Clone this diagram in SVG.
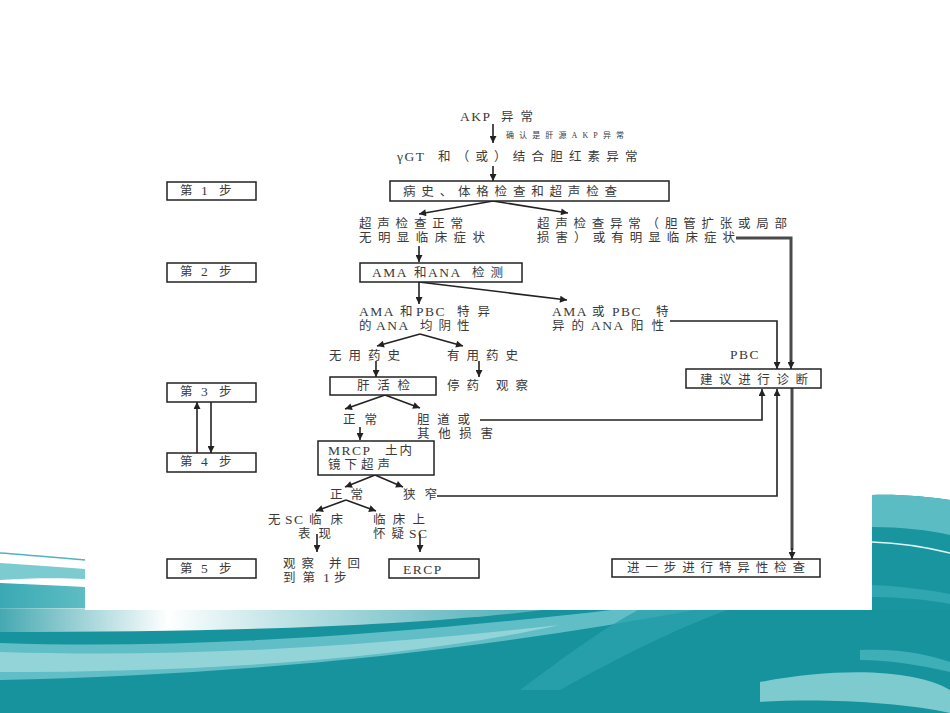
<svg xmlns="http://www.w3.org/2000/svg" width="950" height="713" viewBox="0 0 950 713">
<defs>
<style>
.t{font-family:"Liberation Serif","Noto Sans CJK SC",serif;font-size:12.5px;fill:#3a3a3a}
.s{font-size:8px}
.la{font-size:13.5px;letter-spacing:1.5px}
.box{fill:#fff;stroke:#222;stroke-width:1.5}
.ln{fill:none;stroke:#222;stroke-width:1.6}
.thick{fill:none;stroke:#4a4a4a;stroke-width:3}
</style>
<marker id="ah" viewBox="0 0 10 10" refX="10" refY="5" markerWidth="8" markerHeight="7" markerUnits="userSpaceOnUse" orient="auto">
<path d="M0,0 L10,5 L0,10 z" fill="#222"/>
</marker>
<linearGradient id="wf" x1="0" y1="0" x2="1" y2="0">
<stop offset="0" stop-color="#fff" stop-opacity="0.2"/>
<stop offset="0.3" stop-color="#fff" stop-opacity="1"/>
<stop offset="1" stop-color="#bfe6e9" stop-opacity="0.3"/>
</linearGradient>
<linearGradient id="lb" x1="0" y1="0" x2="1" y2="0">
<stop offset="0" stop-color="#3aa9b3"/>
<stop offset="1" stop-color="#5ebdc4"/>
</linearGradient>
</defs>
<g id="background">
<rect x="0" y="0" width="950" height="713" fill="#fff"/>
<path d="M872,495 C900,494 930,497 950,500 L950,713 L872,713 Z" fill="#18959f"/>
<path d="M872,495 C900,494 930,497 950,500 L950,535 C930,530 900,527 872,527 Z" fill="#5cbcc4"/>
<path d="M872,542 C900,543 930,548 950,553" fill="none" stroke="#e0f4f5" stroke-width="1.5"/>
<path d="M872,585 C900,586 930,590 950,594 L950,604 C930,600 900,597 872,597 Z" fill="#2fa6b0"/>
<path d="M0,553 C30,555 60,558 85,560" fill="none" stroke="#4fb4bd" stroke-width="1.5"/>
<path d="M0,563 C30,565 60,567 85,569 L85,579 C60,578 30,578 0,580 Z" fill="#7ccbd1"/>
<path d="M0,583 C30,584 60,586 85,587 L85,610 L0,610 Z" fill="url(#lb)"/>
<rect x="0" y="609" width="950" height="104" fill="#17939e"/>
<path d="M0,608 L560,608 C430,625 250,632 0,632 Z" fill="url(#wf)"/>
<path d="M0,643 C200,650 420,632 620,609 L700,609 C480,650 250,675 0,680 Z" fill="#6ec6cc" opacity="0.85"/>
<path d="M0,652 C200,658 380,645 560,625 C400,660 200,672 0,672 Z" fill="#a8dde0" opacity="0.7"/>
<path d="M640,609 L730,609 C700,620 650,640 560,690 L520,690 C560,660 600,630 640,609 Z" fill="#2aa3ad" opacity="0.8"/>
<path d="M760,682 C850,665 920,672 950,690 L950,713 C900,702 820,698 760,702 Z" fill="#8fd3d7" opacity="0.85"/>
<path d="M860,650 C900,648 930,655 950,662 L950,672 C920,665 890,660 860,660 Z" fill="#3eaeb7"/>
<rect x="85" y="0" width="787" height="610" fill="#fff"/>
</g>
<g id="connectors">
<line class="ln" x1="493" y1="124" x2="493" y2="143" marker-end="url(#ah)"/>
<line class="ln" x1="493" y1="166" x2="493" y2="181" marker-end="url(#ah)"/>
<line class="ln" x1="493" y1="201" x2="419" y2="214" marker-end="url(#ah)"/>
<line class="ln" x1="493" y1="201" x2="568" y2="213" marker-end="url(#ah)"/>
<line class="ln" x1="419" y1="246" x2="419" y2="262" marker-end="url(#ah)"/>
<line class="ln" x1="419" y1="282" x2="419" y2="304" marker-end="url(#ah)"/>
<line class="ln" x1="419" y1="282" x2="567" y2="300" marker-end="url(#ah)"/>
<line class="ln" x1="420" y1="334" x2="377" y2="346" marker-end="url(#ah)"/>
<line class="ln" x1="420" y1="334" x2="463" y2="346" marker-end="url(#ah)"/>
<line class="ln" x1="376" y1="361" x2="376" y2="377" marker-end="url(#ah)"/>
<line class="ln" x1="479" y1="361" x2="479" y2="377" marker-end="url(#ah)"/>
<line class="ln" x1="385" y1="395" x2="345" y2="409" marker-end="url(#ah)"/>
<line class="ln" x1="385" y1="395" x2="420" y2="408" marker-end="url(#ah)"/>
<line class="ln" x1="360" y1="427" x2="360" y2="440" marker-end="url(#ah)"/>
<line class="ln" x1="375" y1="475" x2="345" y2="487" marker-end="url(#ah)"/>
<line class="ln" x1="375" y1="475" x2="403" y2="487" marker-end="url(#ah)"/>
<line class="ln" x1="346" y1="500" x2="316" y2="511" marker-end="url(#ah)"/>
<line class="ln" x1="346" y1="500" x2="376" y2="511" marker-end="url(#ah)"/>
<line class="ln" x1="317" y1="534" x2="317" y2="552" marker-end="url(#ah)"/>
<line class="ln" x1="420" y1="534" x2="420" y2="552" marker-end="url(#ah)"/>
<line class="ln" x1="197" y1="453" x2="197" y2="402" marker-end="url(#ah)"/>
<line class="ln" x1="211" y1="402" x2="211" y2="453" marker-end="url(#ah)"/>
<polyline class="thick" points="736,238 791,238 791,362"/>
<line class="ln" x1="791" y1="360" x2="791" y2="369" marker-end="url(#ah)"/>
<polyline class="ln" points="670,321 777,321 777,369" marker-end="url(#ah)"/>
<polyline class="ln" points="480,420 762,420 762,389" marker-end="url(#ah)"/>
<polyline class="ln" points="437,496 777,496 777,389" marker-end="url(#ah)"/>
<line class="thick" x1="792" y1="388" x2="792" y2="550"/>
<line class="ln" x1="792" y1="548" x2="792" y2="559" marker-end="url(#ah)"/>
</g>
<g id="n-akp"><text class="t" y="121"><tspan class="la" x="460">AKP</tspan><tspan x="501" style="letter-spacing:7px">异常</tspan></text></g>
<g id="l-confirm"><text class="t s" x="506" y="138" textLength="118" lengthAdjust="spacing">确认是肝源AKP异常</text></g>
<g id="n-ggt"><text class="t" y="161"><tspan class="la" x="397">γGT</tspan><tspan x="438" style="letter-spacing:6.2px">和（或）结合胆红素异常</tspan></text></g>
<g id="n-history"><rect class="box" x="390" y="181" width="279" height="20"/><text class="t" x="403" y="196" textLength="214" lengthAdjust="spacing">病史、体格检查和超声检查</text></g>
<g id="s1"><rect class="box" x="167" y="182" width="89" height="18"/><text class="t" y="195"><tspan x="180">第</tspan><tspan class="la" x="201">1</tspan><tspan x="219">步</tspan></text></g>
<g id="s2"><rect class="box" x="167" y="263" width="89" height="19"/><text class="t" y="276"><tspan x="180">第</tspan><tspan class="la" x="201">2</tspan><tspan x="219">步</tspan></text></g>
<g id="s3"><rect class="box" x="167" y="383" width="89" height="19"/><text class="t" y="396"><tspan x="180">第</tspan><tspan class="la" x="201">3</tspan><tspan x="219">步</tspan></text></g>
<g id="s4"><rect class="box" x="167" y="453" width="89" height="19"/><text class="t" y="466"><tspan x="180">第</tspan><tspan class="la" x="201">4</tspan><tspan x="219">步</tspan></text></g>
<g id="s5"><rect class="box" x="167" y="559" width="89" height="19"/><text class="t" y="573"><tspan x="180">第</tspan><tspan class="la" x="201">5</tspan><tspan x="219">步</tspan></text></g>
<g id="n-us-normal"><text class="t" x="359" y="228" textLength="104" lengthAdjust="spacing">超声检查正常</text><text class="t" x="359" y="242" textLength="126" lengthAdjust="spacing">无明显临床症状</text></g>
<g id="n-us-abn"><text class="t" x="537" y="228" textLength="250" lengthAdjust="spacing">超声检查异常（胆管扩张或局部</text><text class="t" x="537" y="242" textLength="198" lengthAdjust="spacing">损害）或有明显临床症状</text></g>
<g id="n-ama"><rect class="box" x="360" y="263" width="162" height="19"/><text class="t" y="277"><tspan class="la" x="372">AMA</tspan><tspan x="414">和</tspan><tspan class="la" x="428">ANA</tspan><tspan x="472" style="letter-spacing:6px">检测</tspan></text></g>
<g id="n-neg"><text class="t" y="316"><tspan class="la" x="359">AMA</tspan><tspan x="400">和</tspan><tspan class="la" x="416">PBC</tspan><tspan x="457" style="letter-spacing:8px">特异</tspan></text><text class="t" y="330"><tspan x="359">的</tspan><tspan class="la" x="376">ANA</tspan><tspan x="420" style="letter-spacing:6px">均阴性</tspan></text></g>
<g id="n-pos"><text class="t" y="316"><tspan class="la" x="552">AMA</tspan><tspan x="592">或</tspan><tspan class="la" x="612">PBC</tspan><tspan x="656">特</tspan></text><text class="t" y="330"><tspan x="552" style="letter-spacing:7px">异的</tspan><tspan class="la" x="591">ANA</tspan><tspan x="631" style="letter-spacing:8px">阳性</tspan></text></g>
<g id="l-pbc"><text class="t" y="359"><tspan class="la" x="730">PBC</tspan></text></g>
<g id="n-diag"><rect class="box" x="686" y="369" width="135" height="19"/><text class="t" x="700" y="384" textLength="108" lengthAdjust="spacing">建议进行诊断</text></g>
<g id="n-nodrug"><text class="t" x="329" y="360" textLength="71" lengthAdjust="spacing">无用药史</text></g>
<g id="n-drug"><text class="t" x="447" y="360" textLength="71" lengthAdjust="spacing">有用药史</text></g>
<g id="n-biopsy"><rect class="box" x="330" y="377" width="106" height="18"/><text class="t" x="357" y="390" textLength="53" lengthAdjust="spacing">肝活检</text></g>
<g id="n-stop"><text class="t" x="447" y="390" textLength="81" lengthAdjust="spacing">停药 观察</text></g>
<g id="n-normal1"><text class="t" x="343" y="424" textLength="34" lengthAdjust="spacing">正常</text></g>
<g id="n-bile"><text class="t" x="417" y="424" textLength="53" lengthAdjust="spacing">胆道或</text><text class="t" x="417" y="438" textLength="76" lengthAdjust="spacing">其他损害</text></g>
<g id="n-mrcp"><rect class="box" x="318" y="441" width="116" height="34"/><text class="t" y="455"><tspan class="la" x="328">MRCP</tspan><tspan x="385" style="letter-spacing:2px">土内</tspan></text><text class="t" x="328" y="469" textLength="62" lengthAdjust="spacing">镜下超声</text></g>
<g id="n-normal2"><text class="t" x="330" y="499" textLength="33" lengthAdjust="spacing">正常</text></g>
<g id="n-narrow"><text class="t" x="403" y="499" textLength="34" lengthAdjust="spacing">狭窄</text></g>
<g id="n-nosc"><text class="t" y="524"><tspan x="268">无</tspan><tspan class="la" x="285">SC</tspan><tspan x="309" style="letter-spacing:9px">临床</tspan></text><text class="t" x="298" y="538" style="letter-spacing:8px">表现</text></g>
<g id="n-sc"><text class="t" x="373" y="524" textLength="52" lengthAdjust="spacing">临床上</text><text class="t" y="538"><tspan x="373" style="letter-spacing:6px">怀疑</tspan><tspan class="la" x="409">SC</tspan></text></g>
<g id="n-observe"><text class="t" x="283" y="568" textLength="77" lengthAdjust="spacing">观察 并回</text><text class="t" y="582"><tspan x="283" style="letter-spacing:7px">到第</tspan><tspan class="la" x="323">1</tspan><tspan x="334">步</tspan></text></g>
<g id="n-ercp"><rect class="box" x="389" y="559" width="90" height="19"/><text class="t" y="574"><tspan class="la" x="403">ERCP</tspan></text></g>
<g id="n-further"><rect class="box" x="612" y="559" width="208" height="18"/><text class="t" x="627" y="572" textLength="178" lengthAdjust="spacing">进一步进行特异性检查</text></g>
</svg>
